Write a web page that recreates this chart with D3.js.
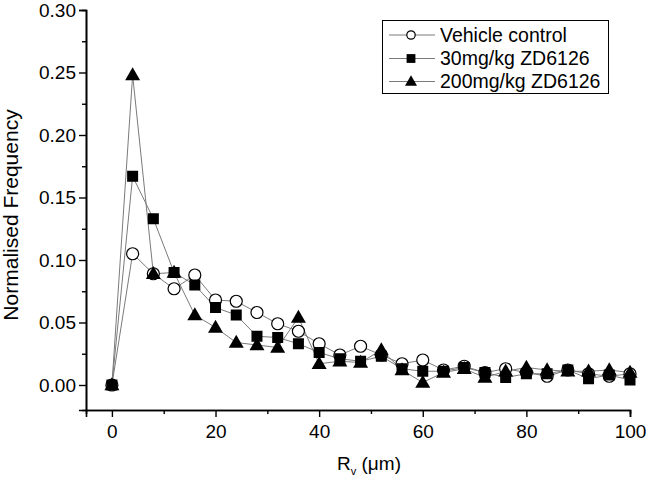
<!DOCTYPE html>
<html>
<head>
<meta charset="utf-8">
<script src="https://cdn.jsdelivr.net/npm/d3@7"></script>
<style>
  html, body { margin: 0; padding: 0; background: #fff; }
  text { font-family: Arial, "Liberation Sans", sans-serif; fill: #000; }
</style>
</head>
<body>
<svg id="chart" width="648" height="478"></svg>
<script>
const radius = [0,4,8,12,16,20,24,28,32,36,40,44,48,52,56,60,64,68,72,76,80,84,88,92,96,100];
const vehicle = [0,0.105,0.089,0.077,0.088,0.068,0.067,0.058,0.049,0.043,0.033,0.024,0.031,0.024,0.017,0.020,0.012,0.015,0.010,0.013,0.010,0.007,0.012,0.009,0.007,0.009];
const zd30 = [0,0.167,0.133,0.090,0.080,0.062,0.056,0.039,0.038,0.033,0.026,0.021,0.019,0.023,0.013,0.011,0.011,0.014,0.010,0.006,0.009,0.009,0.012,0.005,0.008,0.004];
const zd200 = [0,0.248,0.089,0.090,0.056,0.046,0.034,0.032,0.030,0.054,0.017,0.019,0.018,0.028,0.012,0.002,0.010,0.013,0.006,0.011,0.014,0.012,0.011,0.011,0.012,0.010];
const seriesNames = ["Vehicle control", "30mg/kg ZD6126", "200mg/kg ZD6126"];
const xTicks = [0,20,40,60,80,100];
const yTicks = [0,0.05,0.10,0.15,0.20,0.25,0.30];

const svg = d3.select("#chart");
const x = d3.scaleLinear().domain([-5, 100]).range([86, 630]);
const y = d3.scaleLinear().domain([-0.02, 0.30]).range([410, 10]);

// axes
const xAxis = d3.axisBottom(x).tickValues(xTicks).tickFormat(d3.format("d")).tickSize(7).tickPadding(4);
const xMinor = d3.axisBottom(x).tickValues([10,30,50,70,90]).tickFormat("").tickSize(4);
const yAxis = d3.axisLeft(y).tickValues(yTicks).tickFormat(d3.format(".2f")).tickSize(7).tickPadding(3);
const yMinor = d3.axisLeft(y).tickValues([0.025,0.075,0.125,0.175,0.225,0.275]).tickFormat("").tickSize(4);

function styleAxis(g) {
  g.selectAll("path.domain").attr("stroke", "#000").attr("stroke-width", 1.6);
  g.selectAll("line").attr("stroke", "#000").attr("stroke-width", 1.4);
  g.selectAll("text").style("font-size", "19px").attr("fill", "#000");
}
svg.append("g").attr("transform", "translate(0,410)").call(xAxis).call(styleAxis)
  .selectAll("text").attr("dy", "0.9em");
svg.append("g").attr("transform", "translate(0,410)").call(xMinor).call(styleAxis);
svg.append("g").attr("transform", "translate(86,0)").call(yAxis).call(styleAxis);
svg.append("g").attr("transform", "translate(86,0)").call(yMinor).call(styleAxis);

// axis titles
svg.append("text").attr("transform", "translate(18,215) rotate(-90)")
  .attr("text-anchor", "middle").style("font-size", "21px").text("Normalised Frequency");
const xt = svg.append("text").attr("x", 369).attr("y", 470).attr("text-anchor", "middle").style("font-size", "19px");
xt.append("tspan").text("R");
xt.append("tspan").attr("dy", 5).style("font-size", "11px").text("v");
xt.append("tspan").attr("dy", -5).text(" (\u03bcm)");

const data = [vehicle, zd30, zd200];
const line = d3.line().x((d, i) => x(radius[i])).y(d => y(d));

// connecting lines
data.forEach(vals => {
  svg.append("path").datum(vals).attr("d", line)
    .attr("fill", "none").attr("stroke", "#7a7a7a").attr("stroke-width", 1);
});

function drawMarker(g, type, cx, cy, s) {
  if (type === 0) {
    g.append("circle").attr("cx", cx).attr("cy", cy).attr("r", 6 * s)
      .attr("fill", "#fff").attr("stroke", "#000").attr("stroke-width", 1.2);
  } else if (type === 1) {
    const a = 11 * s;
    g.append("rect").attr("x", cx - a / 2).attr("y", cy - a / 2).attr("width", a).attr("height", a)
      .attr("fill", "#000");
  } else {
    const w = 15 * s, h = 13 * s;
    g.append("path").attr("d", `M${cx},${cy - h * 0.6}L${cx + w / 2},${cy + h * 0.4}L${cx - w / 2},${cy + h * 0.4}Z`)
      .attr("fill", "#000");
  }
}

const mg = svg.append("g");
data.forEach((vals, k) => {
  vals.forEach((v, i) => drawMarker(mg, k, x(radius[i]), y(v), 1));
});

// legend
const lg = svg.append("g");
lg.append("rect").attr("x", 382.5).attr("y", 20.5).attr("width", 226).attr("height", 73)
  .attr("fill", "#fff").attr("stroke", "#000").attr("stroke-width", 1);
const ly = [35, 58.5, 81.5];
seriesNames.forEach((name, k) => {
  lg.append("line").attr("x1", 389).attr("x2", 435).attr("y1", ly[k]).attr("y2", ly[k])
    .attr("stroke", "#7a7a7a").attr("stroke-width", 1);
  drawMarker(lg, k, 411, ly[k], k === 0 ? 0.7 : 0.8);
  lg.append("text").attr("x", 440).attr("y", ly[k]).attr("dy", "0.35em")
    .style("font-size", "19.5px").text(name);
});
</script>
</body>
</html>
